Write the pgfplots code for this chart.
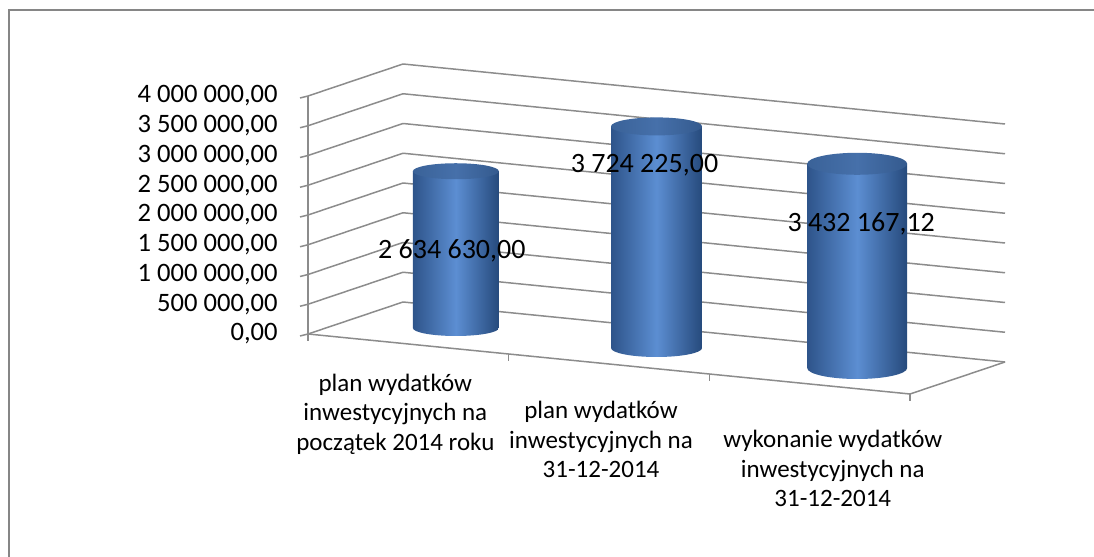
\documentclass[border=0pt]{standalone}
\usepackage{pgfplots}
\pgfplotsset{compat=1.18}
\usepackage{pgfplotstable}
\usepackage{fontspec}
\setmainfont{Carlito}
\definecolor{gridc}{RGB}{140,140,140}
\definecolor{framec}{RGB}{134,134,134}
\definecolor{cylL}{RGB}{46,84,138}
\definecolor{cylM}{RGB}{92,142,210}
\definecolor{cylR}{RGB}{38,74,124}
\definecolor{topL}{RGB}{58,98,152}
\definecolor{topM}{RGB}{70,112,170}
\definecolor{topR}{RGB}{52,90,142}
\newcommand\catfont{\fontsize{12.5pt}{14.75pt}\selectfont}
\newcommand\tickfont{\fontsize{13.3pt}{15pt}\selectfont}
\newcommand\datafont{\fontsize{14pt}{16pt}\selectfont}

% values in millions (2 634 630,00 -> 2.63463)
\pgfplotstableread{
x y z w e
1 0.5 2.63463 21.5 4.0
2 0.5 3.724225 22.75 4.5
3 0.5 3.43216712 25 5.5
}\bars

\pgfplotstableread[col sep=semicolon]{
x;y;z;t
0.98;0.5;1.29;2 634 630,00
1.94;0.5;3.05;3 724 225,00
3.02;0.5;2.43;3 432 167,12
}\labs

\pgfdeclareplotmark{cyl}{%
  \shade[draw=none, left color=cylL, right color=cylR, middle color=cylM]
    (-\wv pt,0pt) -- (-\wv pt,-\hh pt)
    arc[start angle=180, end angle=360, x radius=\wv pt, y radius=\ev pt]
    -- (\wv pt,0pt) -- cycle;
  \shade[draw=none, left color=topL, right color=topR, middle color=topM]
    (0pt,0pt) ellipse [x radius=\wv pt, y radius=\ev pt];
}

\begin{document}
\begin{tikzpicture}
\begin{axis}[
  disabledatascaling,
  x={(100.33pt,-10pt)}, y={(47.5pt,16pt)}, z={(0pt,29.75pt)},
  xmin=0.5, xmax=3.5, ymin=0, ymax=1, zmin=0, zmax=4,
  clip=false,
  axis line style={draw=none},
  tick style={draw=none},
  major tick length=0pt,
  xtick={0.935,1.96,3.115}, ytick=\empty,
  ztick={0,0.5,1,1.5,2,2.5,3,3.5,4},
  zticklabels={{0,00},{500 000,00},{1 000 000,00},{1 500 000,00},{2 000 000,00},{2 500 000,00},{3 000 000,00},{3 500 000,00},{4 000 000,00}},
  xticklabels={{\rule{0pt}{14pt}plan wydatków\\inwestycyjnych na\\początek 2014 roku},{\rule{0pt}{17.5pt}plan wydatków\\inwestycyjnych na\\31-12-2014},{\rule{0pt}{20.5pt}wykonanie wydatków\\inwestycyjnych na\\31-12-2014}},
  zmajorgrids,
  major grid style={draw=gridc, line width=0.75pt},
  xticklabel style={font=\catfont, align=center, anchor=north, inner sep=0pt, yshift=-10pt},
  zticklabel style={font=\tickfont, anchor=east, inner sep=0pt, xshift=-15pt},
]
\coordinate (orig) at (axis cs:0,0,0);
% axis line, ticks and floor edges
\draw[gridc, line width=0.75pt] (axis cs:0.5,0,0) -- (axis cs:0.5,0,4);
\pgfplotsinvokeforeach{0,0.5,1,1.5,2,2.5,3,3.5,4}{
  \draw[gridc, line width=0.75pt] (axis cs:0.5,0,#1) -- ++(-4pt,-1pt);
}
\draw[gridc, line width=0.75pt] (axis cs:0.5,0,0) -- (axis cs:3.5,0,0) -- (axis cs:3.5,1,0);
\pgfplotsinvokeforeach{0.5,1.5,2.5,3.5}{
  \draw[gridc, line width=0.75pt] (axis cs:#1,0,0) -- ++(0pt,-3.5pt);
}
% cylinders
\addplot3[scatter, only marks, mark=cyl, point meta=z,
  scatter/use mapped color={draw=none, fill=none},
  visualization depends on={\thisrow{w} \as \wv},
  visualization depends on={\thisrow{e} \as \ev},
  visualization depends on={\thisrow{z}*29.75 \as \hh}]
  table[x=x, y=y, z=z] {\bars};
% data labels
\addplot3[only marks, mark=none, point meta=explicit symbolic,
  nodes near coords, nodes near coords align={center},
  every node near coord/.append style={font=\datafont, text=black, anchor=center, inner sep=0pt}]
  table[x=x, y=y, z=z, meta=t] {\labs};
\end{axis}
\pgfresetboundingbox
\useasboundingbox (orig) ++(-103.85pt,-116.5pt) rectangle ++(547pt,278.5pt);
\draw[framec, line width=1pt] (orig) ++(-99.1pt,-116.5pt) -- ++(0pt,273.25pt) -- ++(542.25pt,0pt);
\end{tikzpicture}
\end{document}
